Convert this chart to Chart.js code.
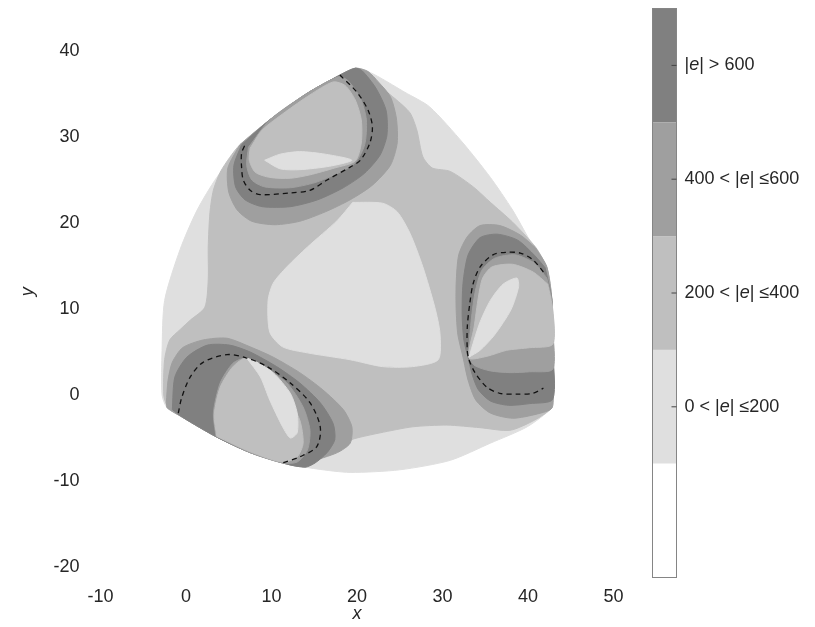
<!DOCTYPE html>
<html>
<head>
<meta charset="utf-8">
<script src="https://cdn.jsdelivr.net/npm/chart.js@4.4.1/dist/chart.umd.min.js"></script>
<style>
  html, body { margin: 0; padding: 0; background: #fff; }
  #wrap { width: 815px; height: 627px; }
</style>
</head>
<body>
<div id="wrap"><canvas id="errorMap" width="815" height="627"></canvas></div>
<script>
"use strict";

// grey levels per |e| band, lowest band first (white = outside / 0)
const bandColours = ['#ffffff', '#dfdfdf', '#bfbfbf', '#9f9f9f', '#808080'];
const bandLabels = ['0 < |e| \u2264200', '200 < |e| \u2264400', '400 < |e| \u2264600', '|e| > 600'];

const xTicks = [-10, 0, 10, 20, 30, 40, 50];
const yTicks = [-20, -10, 0, 10, 20, 30, 40];

// contour regions, [x, y] in data units
const outline = [[19.8,38.0],[21.3,37.6],[22.7,36.9],[25.6,35.2],[28.5,33.5],[32.4,29.3],[35.6,25.3],[38.2,21.5],[40.2,18.0],[42.2,14.9],[42.8,11.0],[42.9,5.2],[42.9,-0.6],[42.8,-1.5],[39.9,-3.7],[35.6,-5.6],[30.9,-7.6],[25.0,-8.7],[19.2,-9.0],[15.3,-8.6],[11.3,-7.9],[7.5,-6.7],[3.6,-4.9],[-0.4,-2.6],[-2.2,-1.5],[-2.8,0],[-2.8,5.2],[-2.5,11.0],[-0.7,16.9],[1.3,21.5],[3.6,25.3],[6.7,29.1],[9.8,32.0],[14.2,35.1],[18.0,37.2]];

const midBand = [[21.7,36.6],[24.4,34.5],[26.2,32.8],[27.0,30.8],[27.7,27.7],[28.8,26.4],[30.9,26.0],[33.6,24.2],[35.6,22.4],[38.2,20.1],[40.2,18.0],[41.1,16.9],[42.2,14.8],[42.8,11.0],[42.9,5.2],[42.9,-0.6],[42.8,-1.5],[40.8,-2.9],[37.9,-4.1],[34.4,-3.8],[30.5,-3.5],[26.5,-3.7],[22.7,-4.4],[20.4,-4.9],[19.4,-5.2],[18.0,-6.4],[15.1,-7.6],[13.3,-8.3],[11.3,-7.9],[7.5,-6.7],[3.6,-4.9],[-0.4,-2.6],[-2.2,-1.2],[-2.6,0],[-2.5,4.1],[-1.9,6.4],[-0.7,7.6],[0.5,8.7],[2.2,10.2],[2.6,13.4],[2.6,17.2],[2.8,21.2],[3.2,23.8],[4.0,25.9],[5.1,27.6],[6.3,29.1],[9.8,32.0],[14.2,35.1],[18.0,37.2],[19.8,38.0],[21.3,37.6]];

const centreLight = [[19.5,22.4],[23.0,22.3],[24.7,21.3],[26.2,18.8],[27.7,14.9],[29.1,10.2],[29.7,7.2],[29.5,4.1],[26.5,3.3],[23.0,3.3],[19.2,4.1],[14.2,4.9],[11.3,5.6],[9.8,7.3],[9.6,11.0],[10.2,13.0],[11.8,14.9],[14.2,17.2],[17.7,20.3]];

// top-left lobe
const topOuter = [[6.3,29.1],[4.9,26.4],[5.0,23.6],[6.0,21.5],[7.7,20.2],[10.4,19.8],[13.3,20.2],[16.3,21.3],[19.2,22.7],[21.8,24.4],[23.9,26.7],[24.7,29.3],[24.6,32.2],[23.9,34.7],[22.5,36.4],[21.3,37.6],[19.8,38.0],[18.0,37.2],[14.2,35.1],[9.8,32.0]];
const topPeak = [[6.5,29.1],[5.6,26.7],[5.8,24.2],[6.9,22.7],[8.9,21.9],[12.2,21.9],[15.4,22.7],[18.4,24.1],[20.9,25.8],[22.7,27.9],[23.5,30.2],[23.4,33.1],[22.2,35.7],[20.6,37.7],[19.8,38.0],[18.0,37.2],[14.2,35.1],[9.8,32.0]];
const topInner = [[7.3,28.8],[7.1,26.7],[7.7,25.0],[9.2,24.2],[12.2,24.1],[15.1,24.7],[17.8,25.8],[19.8,27.0],[20.9,29.1],[21.1,32.0],[20.4,34.5],[18.9,36.6],[17.8,37.0],[14.2,35.1],[9.8,32.0]];
const topCore = [[7.5,28.7],[7.4,27.3],[8.1,25.9],[9.8,25.3],[12.2,25.2],[14.5,25.6],[17.4,26.4],[19.8,27.2],[20.5,29.3],[20.5,32.0],[19.8,34.3],[18.6,36.0],[17.2,36.4],[14.5,34.9],[11.6,32.9],[8.9,30.8]];
const topWedge = [[9.2,27.3],[11.0,28.0],[13.3,28.3],[16.3,28.0],[19.4,27.3],[16.8,26.6],[13.3,26.2],[11.0,26.3]];
const topDash = [[18.0,37.2],[20.0,35.2],[21.3,33.1],[21.8,31.2],[21.5,29.3],[20.4,27.3],[19.2,26.5],[16.5,25.0],[14.5,23.8],[12.2,23.5],[8.7,23.3],[7.5,23.8],[6.7,25.0],[6.5,26.5],[6.5,28.1],[6.9,29.1]];

// right lobe
const rightOuter = [[40.9,17.1],[39.1,18.6],[36.7,19.7],[34.4,19.7],[32.9,18.4],[31.9,16.3],[31.6,13.0],[31.6,9.9],[31.8,7.0],[32.4,4.4],[33.0,1.7],[33.9,-0.6],[35.6,-2.1],[38.2,-2.7],[41.1,-2.2],[42.8,-1.5],[42.9,1.7],[42.9,5.2],[42.8,11.0],[42.2,14.9]];
const rightPeak = [[42.0,14.8],[40.8,16.2],[38.8,18.0],[36.4,18.7],[34.4,18.3],[33.0,16.3],[32.4,13.0],[32.3,9.3],[32.5,6.4],[33.0,4.3],[33.5,2.3],[34.2,0.6],[35.6,-0.7],[37.7,-1.2],[40.2,-1.0],[42.9,-0.5],[42.9,5.2],[42.8,11.0]];
const rightInner = [[42.2,13.6],[40.8,15.3],[38.5,16.3],[36.1,15.9],[34.6,14.5],[33.8,11.9],[33.3,8.1],[33.1,4.4],[33.8,3.4],[35.6,2.8],[37.9,2.6],[40.2,2.7],[42.9,3.0],[42.9,7.6],[42.8,11.0]];
const rightCore = [[42.3,12.9],[40.6,14.3],[38.2,15.2],[35.8,14.9],[34.7,13.6],[34.2,11.4],[33.7,7.9],[33.1,4.3],[35.2,4.5],[37.5,5.2],[40.2,5.5],[42.9,5.9],[42.9,9.9]];
const rightWedge = [[33.1,4.4],[33.7,6.4],[34.4,8.5],[35.6,11.0],[37.1,12.9],[38.7,13.6],[38.9,12.6],[38.0,9.9],[36.1,7.0],[34.4,5.2]];
const rightDash = [[41.8,14.3],[40.6,15.7],[39.1,16.5],[37.5,16.6],[35.9,16.3],[34.4,14.9],[33.6,13.0],[33.2,10.7],[32.9,7.9],[32.9,5.2],[33.1,4.1],[33.8,2.6],[35.2,0.9],[36.7,0.2],[38.7,0.1],[40.6,0.2],[41.8,0.8]];

// bottom-left lobe
const bottomOuter = [[-2.3,-0.9],[-2.1,1.7],[-1.6,3.8],[-0.4,5.5],[2.0,6.4],[4.8,6.6],[7.5,5.6],[10.2,4.4],[13.3,2.6],[16.0,0.6],[18.4,-1.7],[19.4,-3.7],[19.2,-5.6],[17.7,-6.7],[14.5,-7.8],[13.3,-8.3],[11.3,-7.9],[7.5,-6.7],[3.6,-4.9],[-0.4,-2.6],[-2.2,-1.5]];
const bottomPeak = [[-1.6,-1.7],[-1.3,2.1],[0.1,4.4],[2.5,5.8],[5.1,5.8],[7.5,5.0],[10.6,3.3],[13.3,1.4],[15.7,-0.9],[17.2,-3.3],[17.4,-5.2],[16.5,-6.7],[15.1,-7.9],[13.9,-8.4],[11.3,-7.9],[7.5,-6.7],[3.6,-4.9],[-0.4,-2.6]];
const bottomInner = [[3.5,-4.8],[3.2,-2.1],[4.0,1.4],[5.5,3.7],[7.1,4.3],[9.0,3.3],[11.8,1.4],[13.7,-1.4],[14.5,-4.1],[14.2,-6.4],[13.0,-7.8],[11.3,-7.9],[7.5,-6.7]];
const bottomCore = [[3.6,-4.8],[3.3,-2.3],[4.0,0.9],[5.5,3.3],[7.1,4.3],[9.5,2.1],[11.8,-0.2],[13.3,-2.9],[13.7,-5.6],[13.0,-7.2],[11.3,-7.8],[7.5,-6.6]];
const bottomWedge = [[7.1,4.3],[8.7,2.1],[9.8,-0.6],[11.3,-3.7],[12.2,-5.0],[13.0,-4.4],[13.0,-2.1],[12.2,0.2],[10.2,2.6],[8.3,3.8]];
const bottomDash = [[-0.9,-2.1],[-0.5,-0.3],[0.5,2.1],[2.0,3.8],[4.8,4.7],[7.1,4.3],[9.5,3.3],[12.2,1.4],[14.5,-0.9],[15.7,-3.7],[15.3,-6.0],[13.3,-7.2],[11.3,-7.9]];

const textColour = '#262626';
Chart.defaults.font.family = "'Liberation Sans', Arial, Helvetica, sans-serif";
Chart.defaults.font.size = 18;
Chart.defaults.color = textColour;

function toPoints(poly) {
    return poly.map(([x, y]) => ({ x, y }));
}

function area(poly, colour) {
    const pts = toPoints(poly);
    pts.push(pts[0]); // close the shape
    return {
        data: pts,
        showLine: true,
        fill: 'shape',
        backgroundColor: colour,
        borderColor: colour,
        borderWidth: 1,
        pointRadius: 0,
        tension: 0.25
    };
}

function dashed(poly) {
    return {
        data: toPoints(poly),
        showLine: true,
        fill: false,
        borderColor: '#111111',
        borderWidth: 1.3,
        borderDash: [5, 4],
        pointRadius: 0,
        tension: 0.3
    };
}

const [white, light, mid, dark, darkest] = bandColours;

// painted bottom to top
const layers = [
    area(outline, light),
    area(midBand, mid),
    area(centreLight, light),
    area(topOuter, dark), area(topPeak, darkest), area(topInner, dark), area(topCore, mid), area(topWedge, light),
    area(rightOuter, dark), area(rightPeak, darkest), area(rightInner, dark), area(rightCore, mid), area(rightWedge, light),
    area(bottomOuter, dark), area(bottomPeak, darkest), area(bottomInner, dark), area(bottomCore, mid), area(bottomWedge, light),
    dashed(topDash), dashed(rightDash), dashed(bottomDash)
];
// chart.js paints higher `order` first
layers.forEach((ds, i) => { ds.order = layers.length - i; });

// colour bar on the right, drawn after the chart
const colourBar = {
    id: 'colourBar',
    afterDraw(chart) {
        const ctx = chart.ctx;
        const left = 652.5, top = 8.5, width = 24, height = 569;
        const step = height / bandColours.length;
        const n = bandColours.length;
        ctx.save();
        for (let i = 0; i < n; i++) {
            ctx.fillStyle = bandColours[n - 1 - i];
            ctx.fillRect(left, top + i * step, width, step);
        }
        ctx.strokeStyle = '#858585';
        ctx.lineWidth = 1;
        ctx.strokeRect(left, top, width, height);

        const family = Chart.defaults.font.family;
        ctx.textBaseline = 'middle';
        ctx.fillStyle = textColour;
        bandLabels.forEach((label, k) => {
            const cy = top + (n - 2 - k + 0.5) * step;
            ctx.strokeStyle = '#444';
            ctx.beginPath();
            ctx.moveTo(left + width - 5, cy);
            ctx.lineTo(left + width, cy);
            ctx.stroke();
            // the e is set in italics
            const [before, after] = label.split('e');
            let x = left + width + 8;
            ctx.font = '18px ' + family;
            ctx.fillText(before, x, cy);
            x += ctx.measureText(before).width;
            ctx.font = 'italic 18px ' + family;
            ctx.fillText('e', x, cy);
            x += ctx.measureText('e').width;
            ctx.font = '18px ' + family;
            ctx.fillText(after, x, cy);
        });
        ctx.restore();
    }
};

new Chart(document.getElementById('errorMap'), {
    type: 'scatter',
    data: { datasets: layers },
    options: {
        responsive: false,
        animation: false,
        layout: { padding: { left: 0, right: 184.4, top: 8, bottom: 0 } },
        plugins: {
            legend: { display: false },
            tooltip: { enabled: false }
        },
        scales: {
            x: {
                type: 'linear',
                min: -12,
                max: 52,
                grid: { display: false, drawTicks: false },
                border: { display: false },
                afterBuildTicks: s => { s.ticks = xTicks.map(v => ({ value: v })); },
                afterFit: s => { s.height = 51.4; s.paddingLeft = 0; s.paddingRight = 0; },
                ticks: { padding: 11, autoSkip: false, maxRotation: 0, color: textColour },
                title: { display: true, text: 'x', color: textColour, font: { size: 18, style: 'italic' }, padding: { top: 0, bottom: 2 } }
            },
            y: {
                type: 'linear',
                min: -21,
                max: 45,
                grid: { display: false, drawTicks: false },
                border: { display: false },
                afterBuildTicks: s => { s.ticks = yTicks.map(v => ({ value: v })); },
                afterFit: s => { s.width = 83.4; s.paddingTop = 0; s.paddingBottom = 0; },
                ticks: { padding: 4, autoSkip: false, color: textColour },
                title: { display: true, text: 'y', color: textColour, font: { size: 18, style: 'italic' }, padding: { top: 17, bottom: 0 } }
            }
        }
    },
    plugins: [colourBar]
});
</script>
</body>
</html>
